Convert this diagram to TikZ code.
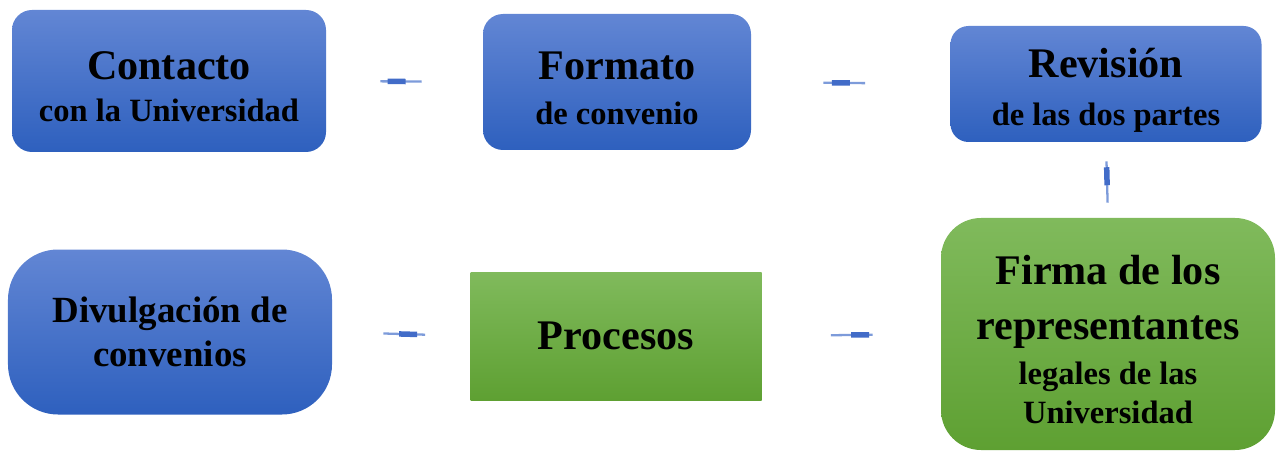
\documentclass[tikz,border=0pt]{standalone}
\usepackage{fontspec}
\setmainfont{Liberation Serif}
\usetikzlibrary{decorations.markings}
\definecolor{azulA}{RGB}{98,134,212}
\definecolor{azulB}{RGB}{46,96,190}
\definecolor{verdeA}{RGB}{128,186,92}
\definecolor{verdeB}{RGB}{94,160,50}
\definecolor{enlace}{RGB}{125,155,218}
\definecolor{enlaceB}{RGB}{66,108,200}
\tikzset{>=stealth,
  caja/.style={minimum width=#1, align=center, inner sep=0pt,
    font=\bfseries\fontsize{24}{31}\selectfont},
  azul/.style={top color=azulA, bottom color=azulB},
  verde/.style={top color=verdeA, bottom color=verdeB},
  enlace/.style={draw=enlace, line width=1.3pt,
    postaction={decorate, decoration={markings,
      mark=at position 0.45 with {\fill[enlaceB] (-0.18,-0.055) rectangle (0.18,0.055);}}}}}
\newcommand{\subtitulo}[1]{{\fontsize{18.5}{22}\selectfont #1}}
\newcommand{\alto}[1]{\rule{0pt}{#1}}

\begin{document}
\begin{tikzpicture}
    \useasboundingbox (0,0) rectangle (25.54,9);
    \node[caja=6.28cm, azul, minimum height=2.84cm, rounded corners=0.4cm] (contacto) at (3.38,7.38)
        {\alto{22pt}Contacto\\[-7pt]\subtitulo{con la Universidad}};
    \node[caja=5.36cm, azul, minimum height=2.72cm, rounded corners=0.4cm] (formato) at (12.34,7.36)
        {\alto{23pt}Formato\\[-5pt]\subtitulo{de convenio}};
    \node[caja=6.22cm, azul, minimum height=2.32cm, rounded corners=0.36cm] (revision) at (22.12,7.32)
        {\alto{24pt}Revisión\\[-4pt]\subtitulo{de las dos partes}};
    \node[caja=6.68cm, verde, minimum height=4.64cm, rounded corners=0.8cm] (firma) at (22.16,2.32)
        {\alto{23pt}Firma de los\\representantes\\[-5pt]\subtitulo{legales de las}\\[-9pt]\subtitulo{Universidad}};
    \node[caja=5.82cm, verde, minimum height=2.56cm] (procesos) at (12.32,2.28)
        {Procesos};
    \node[caja=6.48cm, azul, minimum height=3.30cm, rounded corners=1cm,
        font=\bfseries\fontsize{21}{25}\selectfont] (divulgacion) at (3.40,2.36)
        {Divulgación de\\convenios};
    \draw[enlace, shorten <=1.08cm, shorten >=1.22cm] (contacto.east) -- (formato.west);
    \draw[enlace, shorten <=1.44cm, shorten >=1.70cm] (formato.east) -- (revision.west);
    \draw[enlace, shorten <=0.38cm, shorten >=0.30cm] (revision.south) -- (firma.north);
    \draw[enlace, shorten <=1.36cm, shorten >=1.38cm] (firma.west) -- (procesos.east);
    \draw[enlace, shorten <=0.90cm, shorten >=1.02cm] (procesos.west) -- (divulgacion.east);
\end{tikzpicture}
\end{document}
